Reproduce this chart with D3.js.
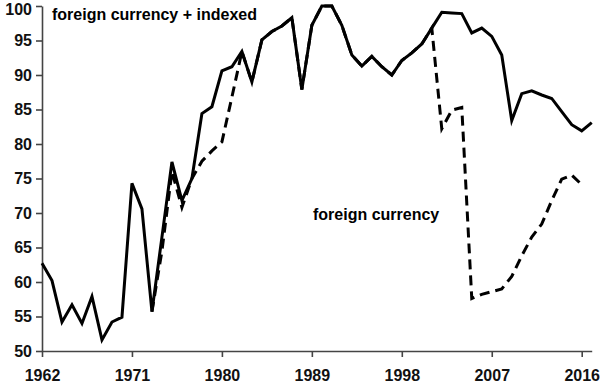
<!DOCTYPE html>
<html>
<head>
<meta charset="utf-8">
<script src="https://cdn.jsdelivr.net/npm/d3@7"></script>
<style>
  html, body { margin: 0; padding: 0; background: #fff; }
  svg { display: block; }
</style>
</head>
<body>
<svg id="chart" width="600" height="383"></svg>
<script>
// ---- data ----
const years = [1962,1963,1964,1965,1966,1967,1968,1969,1970,1971,1972,1973,1974,1975,1976,1977,1978,1979,1980,1981,
  1982,1983,1984,1985,1986,1987,1988,1989,1990,1991,1992,1993,1994,1995,1996,1997,1998,1999,2000,2001,
  2002,2003,2004,2005,2006,2007,2008,2009,2010,2011,2012,2013,2014,2015,2016,2017];
const foreignIndexed = [62.7,60.2,54.2,56.7,54.0,57.9,51.6,54.2,54.9,74.3,70.6,55.7,66.5,77.4,71.8,75.0,84.4,85.4,90.6,91.2,
  93.4,89.0,95.1,96.3,97.1,98.3,87.9,97.2,100,100,97.2,92.9,91.3,92.7,91.2,90.0,92.1,93.2,94.5,96.8,
  99.1,99.0,98.9,96.1,96.8,95.6,92.9,83.4,87.3,87.7,87.1,86.6,84.7,82.8,81.9,83.1];
const fcYears = [1973,1974,1975,1976,1977,1978,1979,1980,1981,1982,1983,1984,1985,1986,1987,1988,1989,1990,1991,1992,
  1993,1994,1995,1996,1997,1998,1999,2000,2001,2002,2003,2004,2005,2006,2007,2008,2009,2010,2011,2012,
  2013,2014,2015,2016];
const foreignCurrency = [55.7,64.5,76.0,70.8,75.0,77.5,79.0,80.3,86.8,93.4,89.0,95.1,96.3,97.1,98.3,87.9,97.2,100,100,97.2,
  92.9,91.3,92.7,91.2,90.0,92.1,93.2,94.5,96.8,82.2,84.9,85.3,57.6,58.2,58.6,59.0,60.8,63.8,66.5,68.4,
  71.8,74.9,75.5,74.1];
const xTicks = [1962,1971,1980,1989,1998,2007,2016];
const yTicks = [50,55,60,65,70,75,80,85,90,95,100];
const labelTop = "foreign currency + indexed";
const labelMid = "foreign currency";

// ---- chart ----
const svg = d3.select("#chart");
const font = "'Liberation Sans', Arial, Helvetica, sans-serif";
const x = d3.scaleLinear().domain([1962, 2017]).range([42, 591.7]);
const y = d3.scaleLinear().domain([50, 100]).range([351, 6]);

const yAxis = svg.append("g").attr("transform", "translate(42,0)")
  .call(d3.axisLeft(y).tickValues(yTicks).tickSize(6).tickPadding(4).tickSizeOuter(0).tickFormat(d3.format("d")));
const xAxis = svg.append("g").attr("transform", "translate(0,351)")
  .call(d3.axisBottom(x).tickValues(xTicks).tickSize(6).tickPadding(13).tickSizeOuter(0).tickFormat(d3.format("d")));

[yAxis, xAxis].forEach(g => {
  g.select(".domain").attr("stroke", "#444").attr("stroke-width", 1.6);
  g.selectAll(".tick line").attr("stroke", "#444").attr("stroke-width", 1.6);
  g.selectAll(".tick text").attr("fill", "#111").style("font-family", font)
    .style("font-size", "16px").style("font-weight", "bold");
});
// keep the top label inside the picture
yAxis.selectAll(".tick text").filter(d => d === 100).attr("y", 3.5);

const line = d3.line().x(d => x(d[0])).y(d => y(d[1]));

svg.append("path")
  .datum(fcYears.map((yr, i) => [yr, foreignCurrency[i]]))
  .attr("d", line)
  .attr("fill", "none").attr("stroke", "#000").attr("stroke-width", 3)
  .attr("stroke-dasharray", "10,6").attr("stroke-linejoin", "miter");

svg.append("path")
  .datum(years.map((yr, i) => [yr, foreignIndexed[i]]))
  .attr("d", line)
  .attr("fill", "none").attr("stroke", "#000").attr("stroke-width", 3)
  .attr("stroke-linejoin", "miter");

svg.append("text").attr("x", 52).attr("y", 20).text(labelTop)
  .style("font-family", font).style("font-size", "16px").style("font-weight", "bold").attr("fill", "#000");
svg.append("text").attr("x", 313).attr("y", 220).text(labelMid)
  .style("font-family", font).style("font-size", "16px").style("font-weight", "bold").attr("fill", "#000");
</script>
</body>
</html>
